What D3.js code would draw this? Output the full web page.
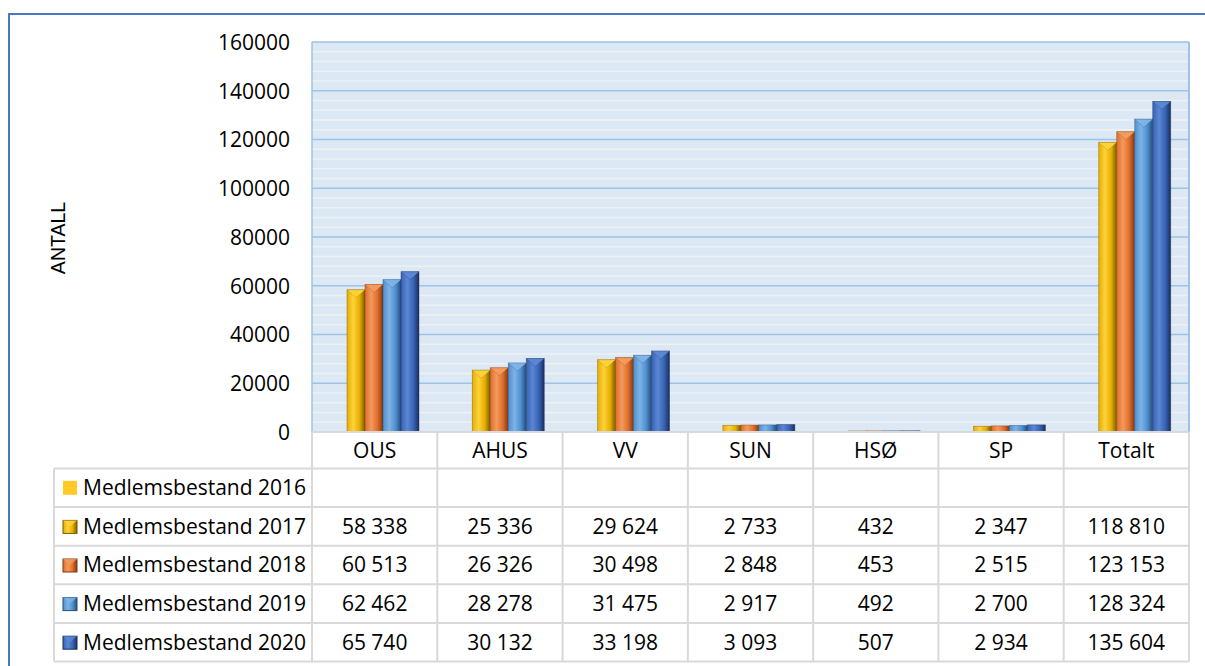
<!DOCTYPE html>
<html>
<head>
<meta charset="utf-8">
<script src="https://cdn.jsdelivr.net/npm/d3@7"></script>
<style>
  body { margin: 0; background: #fff; }
  svg { display: block; font-family: "Open Sans", sans-serif; }
</style>
</head>
<body>
<div id="chart"></div>
<script>
// chart data
var categories = ["OUS", "AHUS", "VV", "SUN", "HSØ", "SP", "Totalt"];
var seriesNames = ["Medlemsbestand 2016", "Medlemsbestand 2017", "Medlemsbestand 2018", "Medlemsbestand 2019", "Medlemsbestand 2020"];
var values2016 = [null, null, null, null, null, null, null];
var values2017 = [58338, 25336, 29624, 2733, 432, 2347, 118810];
var values2018 = [60513, 26326, 30498, 2848, 453, 2515, 123153];
var values2019 = [62462, 28278, 31475, 2917, 492, 2700, 128324];
var values2020 = [65740, 30132, 33198, 3093, 507, 2934, 135604];
var yTicks = [0, 20000, 40000, 60000, 80000, 100000, 120000, 140000, 160000];

var seriesValues = [values2016, values2017, values2018, values2019, values2020];
// colours: base, light, dark
var colors = [
  ["#FFC000", "#FFD34D", "#B38600"],
  ["#E5AE00", "#FFD23A", "#7A5C00"],
  ["#E06D2A", "#F49A5E", "#7E3A12"],
  ["#4F8FCF", "#7DB3E6", "#264E78"],
  ["#3763B5", "#5A86D2", "#1A2F5A"]
];

var W = 1205, H = 666;
var plot = { left: 312, right: 1189, top: 42, bottom: 432 };
var rowH = 38.6;
var headerBottom = 468.5;
var legendLeft = 54;
var fontSize = 21;

var svg = d3.select("#chart").append("svg")
  .attr("width", W).attr("height", H);

// outer frame
svg.append("path")
  .attr("d", "M9,666 V14 H1205")
  .attr("fill", "none").attr("stroke", "#4A78C4").attr("stroke-width", 2);

var x0 = d3.scaleBand().domain(categories).range([plot.left, plot.right]);
var x1 = d3.scaleBand().domain(d3.range(1, 5)).range([35, 107]);
var y = d3.scaleLinear().domain([0, 160000]).range([plot.bottom, plot.top]);

// plot background
svg.append("rect")
  .attr("x", plot.left).attr("y", plot.top)
  .attr("width", plot.right - plot.left).attr("height", plot.bottom - plot.top)
  .attr("fill", "#DDE8F5");

// minor gridlines every 4000
var minor = d3.range(4000, 160000, 4000).filter(function(v) { return v % 20000 != 0; });
svg.selectAll(".minor").data(minor).enter().append("line")
  .attr("x1", plot.left).attr("x2", plot.right)
  .attr("y1", function(d) { return y(d); }).attr("y2", function(d) { return y(d); })
  .attr("stroke", "#EEF1F4").attr("stroke-width", 1.4);

// major gridlines
svg.selectAll(".major").data(yTicks.slice(1)).enter().append("line")
  .attr("x1", plot.left).attr("x2", plot.right)
  .attr("y1", function(d) { return y(d); }).attr("y2", function(d) { return y(d); })
  .attr("stroke", "#9DC3E6").attr("stroke-width", 1.5);

svg.append("line").attr("x1", plot.left).attr("x2", plot.left)
  .attr("y1", plot.top).attr("y2", plot.bottom)
  .attr("stroke", "#9DC3E6").attr("stroke-width", 1.5);
svg.append("line").attr("x1", plot.right).attr("x2", plot.right)
  .attr("y1", plot.top).attr("y2", plot.bottom)
  .attr("stroke", "#9DC3E6").attr("stroke-width", 2);

// y axis labels
var yAxis = d3.axisLeft(y).tickValues(yTicks).tickSize(0).tickPadding(0)
  .tickFormat(d3.format("d"));
var yg = svg.append("g").attr("transform", "translate(290,0)").call(yAxis);
yg.select(".domain").remove();
yg.selectAll("text").attr("font-family", "Open Sans").attr("font-size", fontSize)
  .attr("fill", "#000").attr("dy", "0.35em");

// axis title
svg.append("text")
  .attr("transform", "translate(65,238) rotate(-90)")
  .attr("text-anchor", "middle")
  .attr("font-family", "Liberation Sans").attr("font-size", 19.5)
  .text("ANTALL");

// gradients
var defs = svg.append("defs");
colors.forEach(function(c, i) {
  var g = defs.append("linearGradient").attr("id", "grad" + i)
    .attr("x1", "0").attr("x2", "1").attr("y1", "0").attr("y2", "0");
  g.append("stop").attr("offset", "0").attr("stop-color", c[0]);
  g.append("stop").attr("offset", "0.35").attr("stop-color", c[1]);
  g.append("stop").attr("offset", "0.7").attr("stop-color", c[0]);
  g.append("stop").attr("offset", "1").attr("stop-color", c[2]);
});

// bars
var barData = [];
seriesValues.forEach(function(vals, s) {
  vals.forEach(function(v, i) {
    if (v != null) barData.push({ s: s, cat: categories[i], value: v });
  });
});

var bars = svg.selectAll(".bar").data(barData).enter().append("g").attr("class", "bar");
bars.append("rect")
  .attr("x", function(d) { return x0(d.cat) + x1(d.s); })
  .attr("y", function(d) { return y(d.value); })
  .attr("width", x1.bandwidth())
  .attr("height", function(d) { return y(0) - y(d.value); })
  .attr("fill", function(d) { return "url(#grad" + d.s + ")"; })
  .attr("stroke", function(d) { return colors[d.s][2]; })
  .attr("stroke-opacity", 0.5).attr("stroke-width", 0.8);
// bevelled top
bars.filter(function(d) { return y(0) - y(d.value) > 10; }).append("path")
  .attr("d", function(d) {
    var bx = x0(d.cat) + x1(d.s), by = y(d.value), w = x1.bandwidth();
    return "M" + bx + "," + by + " L" + (bx + w) + "," + by + " L" + (bx + w / 2) + "," + (by + 8) + " Z";
  })
  .attr("fill", function(d) { return colors[d.s][1]; })
  .attr("stroke", function(d) { return colors[d.s][2]; })
  .attr("stroke-opacity", 0.4).attr("stroke-width", 0.6);

// data table
var tableColor = "#D9D9D9";
var rowsTop = headerBottom;
var tableBottom = rowsTop + rowH * seriesNames.length;

// horizontal lines
svg.append("line").attr("x1", plot.left).attr("x2", plot.right)
  .attr("y1", plot.bottom).attr("y2", plot.bottom)
  .attr("stroke", tableColor).attr("stroke-width", 2);
d3.range(seriesNames.length + 1).forEach(function(r) {
  svg.append("line").attr("x1", legendLeft).attr("x2", plot.right)
    .attr("y1", rowsTop + r * rowH).attr("y2", rowsTop + r * rowH)
    .attr("stroke", tableColor).attr("stroke-width", 2);
});
// vertical lines
svg.append("line").attr("x1", legendLeft).attr("x2", legendLeft)
  .attr("y1", rowsTop).attr("y2", tableBottom)
  .attr("stroke", tableColor).attr("stroke-width", 2);
categories.forEach(function(c, i) {
  svg.append("line").attr("x1", x0(c)).attr("x2", x0(c))
    .attr("y1", plot.bottom).attr("y2", tableBottom)
    .attr("stroke", tableColor).attr("stroke-width", 2);
});
svg.append("line").attr("x1", plot.right).attr("x2", plot.right)
  .attr("y1", plot.bottom).attr("y2", tableBottom)
  .attr("stroke", tableColor).attr("stroke-width", 2);

// category labels
svg.selectAll(".cat").data(categories).enter().append("text")
  .attr("x", function(d) { return x0(d) + x0.bandwidth() / 2; })
  .attr("y", (plot.bottom + headerBottom) / 2)
  .attr("dy", "0.35em").attr("text-anchor", "middle")
  .attr("font-size", fontSize).text(function(d) { return d; });

// legend column
var fmt = function(v) { return d3.format(",")(v).replace(/,/g, " "); };
seriesNames.forEach(function(name, s) {
  var cy = rowsTop + s * rowH + rowH / 2;
  if (s == 0) {
    svg.append("rect").attr("x", 63).attr("y", cy - 7).attr("width", 14).attr("height", 14)
      .attr("fill", "#FFCA28");
  } else {
    svg.append("rect").attr("x", 63).attr("y", cy - 6).attr("width", 14).attr("height", 13)
      .attr("fill", "url(#grad" + s + ")")
      .attr("stroke", colors[s][2]).attr("stroke-width", 1);
    svg.append("path")
      .attr("d", "M63," + (cy - 6) + " L77," + (cy - 6) + " L70," + (cy) + " Z")
      .attr("fill", colors[s][1]).attr("opacity", 0.8);
  }
  svg.append("text").attr("x", 83).attr("y", cy).attr("dy", "0.35em")
    .attr("font-size", fontSize).text(name);
  seriesValues[s].forEach(function(v, i) {
    if (v == null) return;
    svg.append("text")
      .attr("x", x0(categories[i]) + x0.bandwidth() / 2)
      .attr("y", cy).attr("dy", "0.35em").attr("text-anchor", "middle")
      .attr("font-size", fontSize).text(fmt(v));
  });
});
</script>
</body>
</html>
